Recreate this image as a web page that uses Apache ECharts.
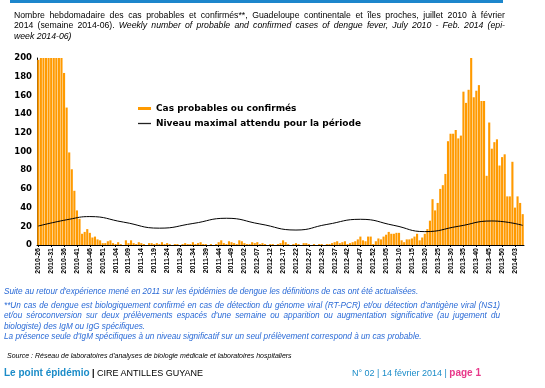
<!DOCTYPE html>
<html><head><meta charset="utf-8">
<script src="https://cdn.jsdelivr.net/npm/echarts@6/dist/echarts.min.js"></script>
<style>
html,body{margin:0;padding:0;background:#fff;width:545px;height:388px;overflow:hidden;font-family:'Liberation Sans',Arial,sans-serif;}
#chart{position:absolute;left:0;top:0;width:545px;height:388px;}
.t{position:absolute;}
.j{text-align:justify;text-align-last:justify;}
.fn{color:#2a6ad6;font-style:italic;font-size:8.2px;line-height:10.4px;}
</style></head><body>
<div style="position:absolute;left:10px;top:0;width:493px;height:3px;background:#1c86cc"></div>
<div id="chart"></div>
<div class="t" style="left:14px;top:9.5px;width:491px;font-size:8.7px;line-height:10.7px;color:#000">
<div class="j">Nombre hebdomadaire des cas probables et confirmés**, Guadeloupe continentale et îles proches, juillet 2010 à février</div>
<div class="j">2014 (semaine 2014-06). <i>Weekly number of probable and confirmed cases of dengue fever, July 2010 - Feb. 2014 (epi-</i></div>
<div><i>week 2014-06)</i></div>
</div>
<div class="t fn" style="left:4px;top:286.5px;width:496px">Suite au retour d'expérience mené en 2011 sur les épidémies de dengue les définitions de cas ont été actualisées.</div>
<div class="t fn" style="left:4px;top:300.8px;width:496px">
<div class="j">**Un cas de dengue est biologiquement confirmé en cas de détection du génome viral (RT-PCR) et/ou détection d'antigène viral (NS1)</div>
<div class="j">et/ou séroconversion sur deux prélèvements espacés d'une semaine ou apparition ou augmentation significative (au jugement du</div>
<div>biologiste) des IgM ou IgG spécifiques.</div>
<div>La présence seule d'IgM spécifiques à un niveau significatif sur un seul prélèvement correspond à un cas probable.</div>
</div>
<div class="t" style="left:7px;top:352px;font-size:7px;font-style:italic;color:#000;white-space:nowrap">Source : Réseau de laboratoires d'analyses de biologie médicale et laboratoires hospitaliers</div>
<div class="t" style="left:4px;top:367px;font-size:9px;white-space:nowrap;color:#000"><b style="font-size:10px;color:#1b8cc8">Le point épidémio</b> <b>|</b> CIRE ANTILLES GUYANE</div>
<div class="t" style="left:352px;top:367px;font-size:9px;white-space:nowrap;color:#1b8cc8">N° 02 | 14 février 2014 | <b style="font-size:10px;color:#e8388a">page 1</b></div>
<script>
// categories: epidemiological weeks 2010-26 .. 2014-06
const weekRanges = [[2010, 26, 52], [2011, 1, 52], [2012, 1, 52], [2013, 1, 52], [2014, 1, 6]];
const weeks = [];
weekRanges.forEach(function (r) {
  for (let w = r[1]; w <= r[2]; w++) weeks.push(r[0] + '-' + (w < 10 ? '0' + w : '' + w));
});

// weekly probable and confirmed cases (values above 200 are clipped at the axis max)
const cases = [
  198, 200, 200, 200, 200, 200, 200, 200, 200, 200,
  184, 147, 99, 81, 58, 37, 28, 12, 14, 17,
  13, 8, 9, 6, 5, 2, 2, 4, 5, 2,
  1, 3, 1, 0, 5, 2, 5, 2, 1, 3,
  2, 1, 0, 2, 2, 1, 2, 1, 3, 1,
  2, 1, 0, 1, 1, 0, 1, 2, 1, 1,
  3, 1, 2, 3, 1, 1, 0, 1, 0, 1,
  3, 5, 2, 1, 4, 3, 2, 1, 5, 4,
  2, 1, 1, 3, 2, 3, 1, 2, 1, 0,
  1, 1, 0, 1, 2, 5, 3, 1, 0, 1,
  2, 1, 0, 2, 2, 1, 0, 1, 0, 1,
  1, 0, 1, 1, 2, 3, 4, 2, 3, 4,
  1, 2, 3, 4, 6, 9, 5, 4, 9, 9,
  1, 4, 7, 6, 9, 11, 14, 12, 12, 13,
  13, 5, 3, 6, 6, 7, 9, 12, 5, 8,
  12, 17, 26, 49, 37, 45, 60, 64, 76, 111,
  119, 119, 123, 114, 117, 164, 152, 166, 200, 158,
  165, 171, 154, 154, 74, 131, 103, 110, 113, 85,
  94, 97, 52, 52, 89, 40, 52, 45, 33
];

// expected maximum level, read at key weeks
const threshold = [
  ['2010-26', 20.3], ['2010-38', 27.5], ['2010-46', 30.4], ['2011-07', 24.5],
  ['2011-21', 18], ['2011-34', 23], ['2011-47', 28.6], ['2012-08', 22.5],
  ['2012-22', 16], ['2012-34', 22], ['2012-47', 27.5], ['2013-08', 21],
  ['2013-20', 14.3], ['2013-33', 20], ['2013-46', 25.7], ['2014-06', 21]
];

const chart = echarts.init(document.getElementById('chart'));
chart.setOption({
  animation: false,
  grid: { left: 37, top: 58, width: 487, height: 187 },
  legend: {
    orient: 'vertical', left: 133, top: 99, itemWidth: 13, itemHeight: 3, itemGap: 6,
    textStyle: { fontFamily: 'DejaVu Sans', fontWeight: 'bold', fontSize: 9, color: '#000' },
    data: [
      { name: 'Cas probables ou confirmés', icon: 'rect' },
      { name: 'Niveau maximal attendu pour la période', icon: 'path://M0,0H100V10H0Z', itemStyle: { color: '#222' } }
    ]
  },
  xAxis: {
    type: 'category', data: weeks, boundaryGap: true,
    axisLine: { lineStyle: { color: '#000', width: 1 } },
    axisTick: { show: true, interval: 4, alignWithLabel: true, length: 2, lineStyle: { color: '#000' } },
    axisLabel: { interval: 4, rotate: 90, fontFamily: 'Liberation Sans', fontWeight: 'bold', fontSize: 7, color: '#000', margin: 3 }
  },
  yAxis: {
    type: 'value', min: 0, max: 200, interval: 20,
    splitLine: { show: false },
    axisLine: { show: true, lineStyle: { color: '#000', width: 1 } },
    axisTick: { show: false },
    axisLabel: { fontFamily: 'DejaVu Sans', fontWeight: 'bold', fontSize: 8.5, color: '#000', margin: 5 }
  },
  series: [
    { name: 'Cas probables ou confirmés', type: 'bar', data: cases, barCategoryGap: '18%', itemStyle: { color: '#FF9A00' } },
    { name: 'Niveau maximal attendu pour la période', type: 'line', data: threshold, smooth: true, symbol: 'none', lineStyle: { color: '#000', width: 1 } }
  ]
});
</script>
</body></html>
